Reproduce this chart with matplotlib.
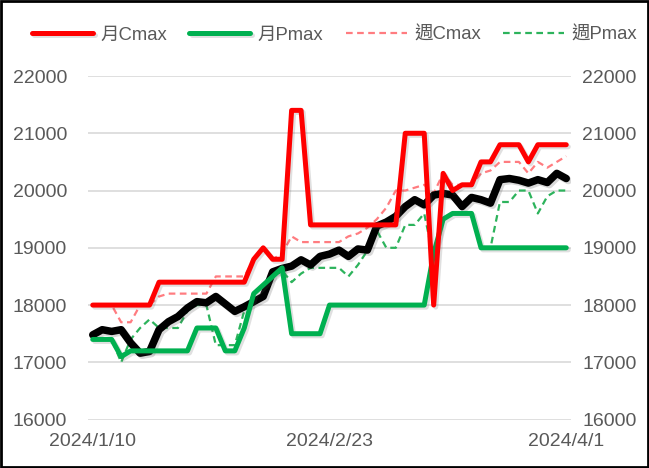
"""
TAIEX daily close vs. max open-interest strikes (monthly / weekly Cmax, Pmax),
2024/1/10 - 2024/4/1.  Excel-style line chart with duplicated right y-axis.
"""
import matplotlib
matplotlib.use("Agg")
import matplotlib.pyplot as plt
import matplotlib.patheffects as pe
from matplotlib.patches import Rectangle
import numpy as np

plt.rcParams["font.family"] = ["Liberation Sans", "Noto Sans CJK TC", "DejaVu Sans"]

# --------------------------------------------------------------------------- #
# Data                                               #
# --------------------------------------------------------------------------- #
DATES = [
    "2024/1/10", "2024/1/11", "2024/1/12", "2024/1/15", "2024/1/16", "2024/1/17",
    "2024/1/18", "2024/1/19", "2024/1/22", "2024/1/23", "2024/1/24", "2024/1/25",
    "2024/1/26", "2024/1/29", "2024/1/30", "2024/1/31", "2024/2/1", "2024/2/2",
    "2024/2/5", "2024/2/15", "2024/2/16", "2024/2/19", "2024/2/20", "2024/2/21",
    "2024/2/22", "2024/2/23", "2024/2/26", "2024/2/27", "2024/2/29", "2024/3/1",
    "2024/3/4", "2024/3/5", "2024/3/6", "2024/3/7", "2024/3/8", "2024/3/11",
    "2024/3/12", "2024/3/13", "2024/3/14", "2024/3/15", "2024/3/18", "2024/3/19",
    "2024/3/20", "2024/3/21", "2024/3/22", "2024/3/25", "2024/3/26", "2024/3/27",
    "2024/3/28", "2024/3/29", "2024/4/1",
]
TICK_DATES = ["2024/1/10", "2024/2/23", "2024/4/1"]

# index close
INDEX = [17480, 17570, 17540, 17570, 17340, 17160, 17190, 17570, 17710, 17800,
         17950, 18060, 18040, 18150, 18020, 17890, 17970, 18060, 18150, 18580,
         18640, 18680, 18790, 18700, 18850, 18890, 18960, 18850, 18980, 18960,
         19380, 19450, 19550, 19720, 19840, 19750, 19920, 19950, 19920, 19720,
         19880, 19840, 19780, 20190, 20210, 20180, 20130, 20190, 20140, 20300,
         20210]
# 月Cmax
M_CMAX = [18000, 18000, 18000, 18000, 18000, 18000, 18000, 18400, 18400, 18400,
          18400, 18400, 18400, 18400, 18400, 18400, 18400, 18800, 19000, 18800,
          18800, 21400, 21400, 19400, 19400, 19400, 19400, 19400, 19400, 19400,
          19400, 19400, 19400, 21000, 21000, 21000, 18000, 20300, 20000, 20100,
          20100, 20500, 20500, 20800, 20800, 20800, 20500, 20800, 20800, 20800,
          20800]
# 月Pmax
M_PMAX = [17400, 17400, 17400, 17100, 17200, 17200, 17200, 17200, 17200, 17200,
          17200, 17600, 17600, 17600, 17200, 17200, 17600, 18200, 18350, 18500,
          18650, 17500, 17500, 17500, 17500, 18000, 18000, 18000, 18000, 18000,
          18000, 18000, 18000, 18000, 18000, 18000, 18900, 19500, 19600, 19600,
          19600, 19000, 19000, 19000, 19000, 19000, 19000, 19000, 19000, 19000,
          19000]
# 週Cmax
W_CMAX = [18000, 18000, 18000, 17700, 17700, 18000, 18000, 18150, 18200, 18200,
          18200, 18200, 18200, 18500, 18500, 18500, 18500, 18800, 19000, 18800,
          18900, 19200, 19100, 19100, 19100, 19100, 19100, 19200, 19250, 19350,
          19500, 19700, 20000, 20000, 20050, 20100, 19950, 20300, 20100, 20100,
          20100, 20300, 20350, 20500, 20500, 20500, 20300, 20500, 20400, 20500,
          20600]
# 週Pmax
W_PMAX = [17400, 17400, 17400, 17000, 17400, 17600, 17750, 17600, 17600, 17600,
          17900, 18000, 18000, 17300, 17300, 17300, 17900, 18200, 18350, 18500,
          18600, 18400, 18550, 18650, 18650, 18650, 18650, 18500, 18700, 18950,
          19300, 19000, 19000, 19400, 19400, 19600, 18800, 19500, 19600, 19600,
          19600, 19000, 19000, 19800, 19800, 20000, 20000, 19600, 19900, 20000,
          20000]

Y_TICKS = [16000, 17000, 18000, 19000, 20000, 21000, 22000]

TEXT = "#595959"
GRID = "#D9D9D9"
FS = 14


def shadow(alpha=0.18):
    return [pe.SimpleLineShadow(offset=(1.5, -1.5), shadow_color="#555555", alpha=alpha),
            pe.Normal()]


def main() -> None:
    x = np.arange(len(DATES))
    fig = plt.figure(figsize=(6.49, 4.68), dpi=100)
    ax = fig.add_axes([0.1356, 0.1034, 0.7442, 0.7342])

    # dashed weekly lines under everything
    l_wp, = ax.plot(x, W_PMAX, color="#2DB35C", lw=1.6, ls=(0, (3, 2)),
                    label="週Pmax", zorder=2)
    l_wc, = ax.plot(x, W_CMAX, color="#FF7C80", lw=1.6, ls=(0, (3, 2)),
                    label="週Cmax", zorder=3)
    ax.plot(x, INDEX, color="black", lw=5.4, solid_joinstyle="round",
            solid_capstyle="round", zorder=4, path_effects=shadow(0.22))
    l_mp, = ax.plot(x, M_PMAX, color="#00B050", lw=3.6, solid_joinstyle="round",
                    solid_capstyle="round", label="月Pmax", zorder=5,
                    path_effects=shadow())
    l_mc, = ax.plot(x, M_CMAX, color="#FF0000", lw=3.6, solid_joinstyle="round",
                    solid_capstyle="round", label="月Cmax", zorder=6,
                    path_effects=shadow())

    ax.set_xlim(-0.5, len(DATES) - 0.5)
    ax.set_ylim(Y_TICKS[0], Y_TICKS[-1])
    ax.set_yticks(Y_TICKS)
    ax.yaxis.grid(True, color=GRID, lw=1.2)
    ax.set_axisbelow(True)
    ax.set_xticks([DATES.index(d) for d in TICK_DATES])
    ax.set_xticklabels(TICK_DATES)
    for s in ax.spines.values():
        s.set_visible(False)
    ax.tick_params(axis="both", length=0, labelsize=FS, labelcolor=TEXT)
    ax.tick_params(axis="y", pad=15)
    ax.tick_params(axis="x", pad=10)

    ax2 = ax.twinx()
    ax2.set_ylim(ax.get_ylim())
    ax2.set_yticks(Y_TICKS)
    for s in ax2.spines.values():
        s.set_visible(False)
    ax2.tick_params(axis="y", length=0, labelsize=FS, labelcolor=TEXT, pad=8)

    leg = fig.legend([l_mc, l_mp, l_wc, l_wp], ["月Cmax", "月Pmax", "週Cmax", "週Pmax"],
                     loc="center", bbox_to_anchor=(0.5154, 0.925), ncol=4,
                     frameon=False, fontsize=13.3, handlelength=3.3,
                     handletextpad=0.4, columnspacing=1.2)
    for t in leg.get_texts():
        t.set_color(TEXT)

    fig.patches.append(Rectangle((0.0015, 0.002), 0.997, 0.996, transform=fig.transFigure,
                                 fill=False, edgecolor="black", lw=2))
    fig.savefig("out.png", dpi=100)
    plt.close(fig)


if __name__ == "__main__":
    main()
